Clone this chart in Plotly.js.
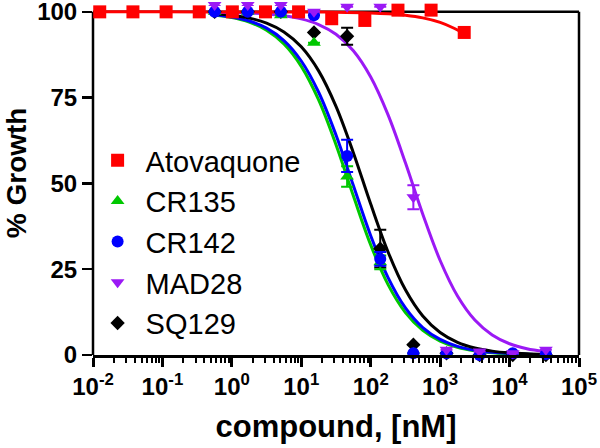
<!DOCTYPE html>
<html>
<head>
<meta charset="utf-8">
<script src="https://cdn.plot.ly/plotly-3.0.1.min.js"></script>
<style>html,body{margin:0;padding:0;background:#fff;}#chart{width:600px;height:448px;}</style>
</head>
<body>
<div id="chart"></div>
<script>
// ---- data ----
const seriesNames = ["Atovaquone", "CR135", "CR142", "MAD28", "SQ129"];

// Atovaquone concentrations (nM) and % growth
const atoConc = [0.0125, 0.0376, 0.113, 0.339, 1.016, 3.05, 9.14, 27.43, 82.3, 246.9, 740.7, 2222];
const atoGrowth = [100, 100, 100, 100, 100, 100, 100, 98, 97.5, 100.5, 100.5, 94];

// test compound concentrations (nM)
const cmpConc = [0.5645, 1.6935, 5.08, 15.24, 45.72, 137.2, 411.5, 1234.6, 3703.7, 11111, 33333];
const cr135Growth = [100, 100, 99, 91, 52, 27, 0.5, 0, 0, 0, 0];
const cr142Growth = [100, 100, 100, 99, 58, 28, 0.5, 0.5, 0, 0.5, 0.3];
const mad28Growth = [102, 102, 102, 100, 101.5, 101.5, 46, 1.5, 1, 0.5, 1.5];
const sq129Growth = [100, 100, 100, 94, 92.9, 31, 3, 0.5, 0, 0, 0];

const cr135Err = [0, 0, 0, 0, 3, 2, 0, 0, 0, 0, 0];
const cr142Err = [0, 0, 0, 0, 4.7, 2, 0, 0, 0, 0, 0];
const mad28Err = [0, 0, 0, 0, 0, 0, 3.5, 0, 0, 0, 0];
const sq129Err = [0, 0, 0, 0, 2.5, 5.5, 0, 0, 0, 0, 0];

// fitted curves (x in nM)
const atoCurveX = [0.0125, 0.1, 1, 10, 31.6, 100, 177.8, 316.2, 562.3, 1000, 1584.9, 2222];
const atoCurveY = [100, 100, 99.98, 99.97, 99.9, 99.68, 99.44, 99.0, 98.25, 96.94, 95.23, 93.6];

const curveX = [0.562, 1, 1.778, 3.162, 5.623, 10, 17.78, 31.62, 56.23, 100, 177.8, 316.2, 562.3, 1000, 1778, 3162, 5623, 10000, 17783, 31623];
const cr135Curve = [99.09, 98.35, 97.01, 94.67, 90.66, 84.13, 74.34, 61.29, 46.38, 32.09, 20.52, 12.37, 7.16, 4.04, 2.25, 1.24, 0.68, 0.37, 0.20, 0.11];
const cr142Curve = [99.19, 98.53, 97.35, 95.25, 91.63, 85.68, 76.58, 64.11, 49.39, 34.78, 22.56, 13.73, 8.0, 4.54, 2.53, 1.40, 0.77, 0.42, 0.23, 0.13];
const mad28Curve = [99.9, 99.81, 99.66, 99.38, 98.87, 97.95, 96.31, 93.47, 88.65, 81.01, 69.98, 56.02, 41.03, 27.55, 17.2, 10.19, 5.84, 3.28, 1.82, 1.0];
const sq129Curve = [99.45, 99.0, 98.18, 96.72, 94.16, 89.81, 82.8, 72.45, 58.96, 43.98, 30.02, 18.99, 11.36, 6.54, 3.68, 2.05, 1.13, 0.62, 0.34, 0.19];

const xTickVals = [0.01, 0.1, 1, 10, 100, 1000, 10000, 100000];
const xTickText = ["10<sup>-2</sup>", "10<sup>-1</sup>", "10<sup>0</sup>", "10<sup>1</sup>", "10<sup>2</sup>", "10<sup>3</sup>", "10<sup>4</sup>", "10<sup>5</sup>"];
const yTickVals = [0, 25, 50, 75, 100];

// ---- styling ----
const colors = ["#ff0000", "#00c800", "#0000ff", "#9b19f5", "#000000"];
const symbols = ["square", "triangle-up", "circle", "triangle-down", "diamond"];
const sizes = [13, 12, 12, 12, 11];
const FONT = "Arial, 'Liberation Sans', Helvetica, sans-serif";

const curveXs = [atoCurveX, curveX, curveX, curveX, curveX];
const curveYs = [atoCurveY, cr135Curve, cr142Curve, mad28Curve, sq129Curve];
const ptXs = [atoConc, cmpConc, cmpConc, cmpConc, cmpConc];
const ptYs = [atoGrowth, cr135Growth, cr142Growth, mad28Growth, sq129Growth];
const errs = [null, cr135Err, cr142Err, mad28Err, sq129Err];

const traces = [];
const curveOrder = [1, 2, 4, 3, 0];
curveOrder.forEach(i => {
  traces.push({
    x: curveXs[i], y: curveYs[i], mode: "lines", type: "scatter",
    line: {color: colors[i], width: 3, shape: "spline", smoothing: 1},
    showlegend: false, hoverinfo: "skip", cliponaxis: false
  });
});
const markerOrder = [4, 1, 2, 3, 0];
markerOrder.forEach(i => {
  const t = {
    x: ptXs[i], y: ptYs[i], mode: "markers", type: "scatter", name: seriesNames[i],
    legendrank: i + 1,
    marker: {color: colors[i], symbol: symbols[i], size: sizes[i], line: {width: 0}},
    cliponaxis: false
  };
  if (errs[i]) {
    t.error_y = {type: "data", array: errs[i], visible: true, color: colors[i], thickness: 2, width: 6};
  }
  traces.push(t);
});

const layout = {
  width: 600, height: 448,
  margin: {l: 93, r: 21, t: 5, b: 93, pad: 0},
  paper_bgcolor: "#ffffff", plot_bgcolor: "#ffffff",
  font: {family: FONT, color: "#000"},
  showlegend: true,
  legend: {
    x: -0.007, y: 0.629, xanchor: "left", yanchor: "top",
    bgcolor: "rgba(255,255,255,0)", borderwidth: 0,
    font: {family: FONT, size: 29, color: "#000"},
    tracegroupgap: 0, itemsizing: "trace", itemwidth: 46, traceorder: "normal"
  },
  xaxis: {
    type: "log", range: [-2, 5],
    tickmode: "array", tickvals: xTickVals, ticktext: xTickText,
    ticks: "outside", ticklen: 9, tickwidth: 3, tickcolor: "#000",
    minor: {ticks: "outside", ticklen: 5, tickwidth: 2, tickcolor: "#000", dtick: "D1", showgrid: false},
    showline: true, linewidth: 2.5, linecolor: "#000", mirror: false,
    showgrid: false, zeroline: false,
    tickfont: {family: FONT, size: 24, weight: 700, color: "#000"},
    title: {text: "compound, [nM]", font: {family: FONT, size: 31, weight: 700, color: "#000"}, standoff: 16}
  },
  yaxis: {
    range: [0, 102],
    tickmode: "array", tickvals: yTickVals,
    ticks: "outside", ticklen: 10, tickwidth: 2.5, tickcolor: "#000",
    ticklabeloverflow: "allow",
    showline: false,
    showgrid: false, zeroline: false,
    tickfont: {family: FONT, size: 24, weight: 700, color: "#000"}
  },
  annotations: [
    {text: "% Growth", xref: "paper", yref: "paper", x: -0.158, y: 0.52, xanchor: "center", yanchor: "middle",
     textangle: -90, showarrow: false, font: {family: FONT, size: 28, weight: 700, color: "#000"}}
  ],
  shapes: [
    {type: "line", xref: "paper", yref: "y", x0: 0, x1: 0, y0: 0, y1: 100, line: {color: "#000", width: 2.5}, layer: "below"},
    {type: "line", xref: "paper", yref: "y", x0: 0, x1: 1, y0: 100, y1: 100, line: {color: "#000", width: 2.5}, layer: "below"},
    {type: "line", xref: "paper", yref: "y", x0: 1, x1: 1, y0: 0, y1: 100, line: {color: "#000", width: 2.5}, layer: "below"}
  ]
};

Plotly.newPlot("chart", traces, layout, {displayModeBar: false, staticPlot: true});
</script>
</body>
</html>
